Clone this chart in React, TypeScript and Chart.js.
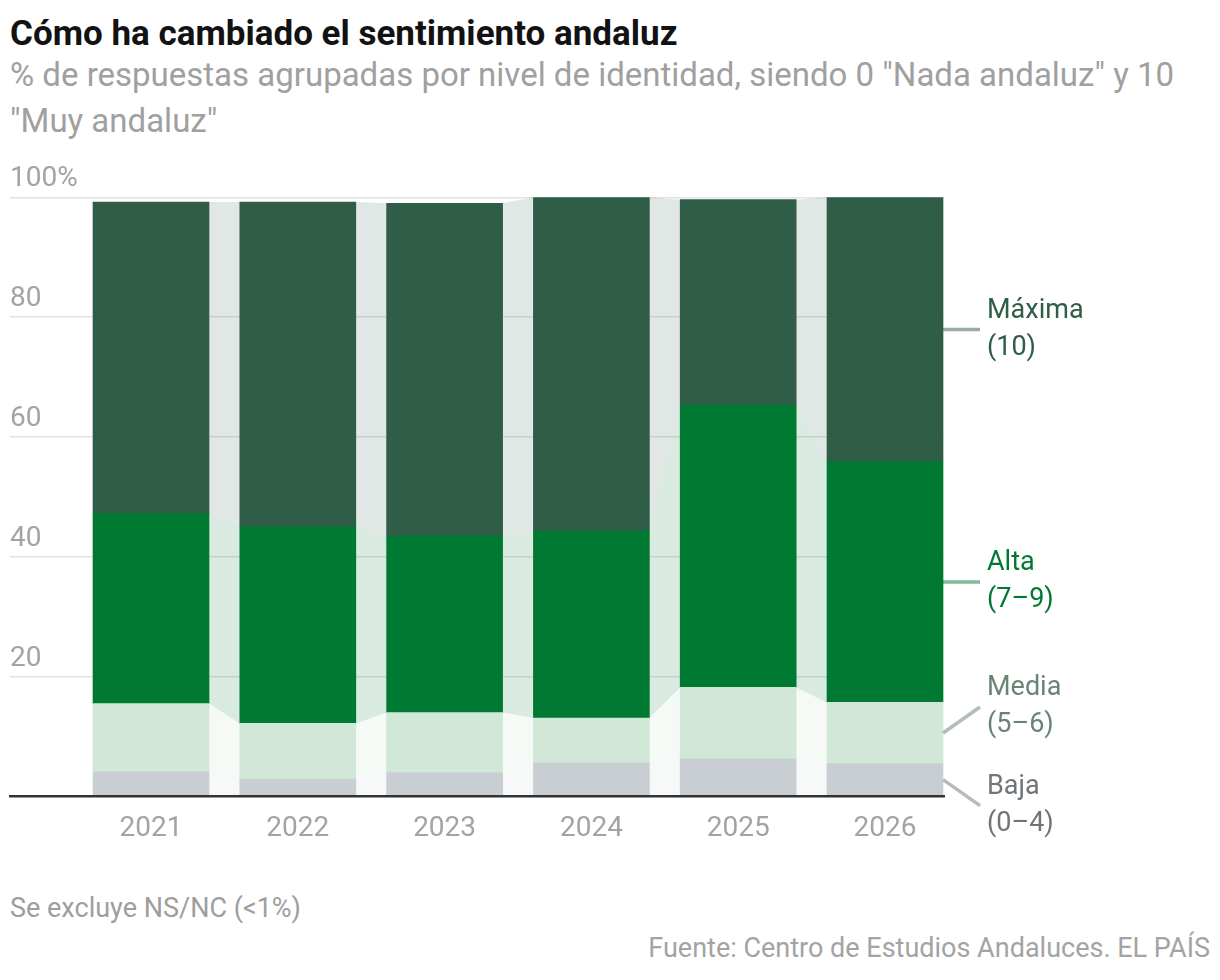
import React, { useEffect, useRef } from "react";
import { Chart, registerables } from "chart.js";

Chart.register(...registerables);

// ---- data ----
const years = ["2021", "2022", "2023", "2024", "2025", "2026"];
const baja = [4.1, 2.9, 4.0, 5.6, 6.3, 5.5];
const media = [11.4, 9.3, 10.0, 7.5, 11.9, 10.2];
const alta = [31.7, 32.8, 29.5, 31.2, 47.1, 40.2];
const maxima = [52.0, 54.2, 55.5, 55.7, 34.3, 44.1];
const yTicks = [0, 20, 40, 60, 80, 100];
const seriesNames = ["Baja", "Media", "Alta", "Máxima"];
const seriesRanges = ["(0–4)", "(5–6)", "(7–9)", "(10)"];

// ---- styles ----
const seriesValues = [baja, media, alta, maxima];
const fills = ["#c9ced2", "#d1e8d8", "#007a33", "#2f5d47"];
const connectorFills = [
  "rgba(201,206,210,0.15)",
  "rgba(209,232,216,0.2)",
  "rgba(0,122,51,0.15)",
  "rgba(47,93,71,0.15)",
];
const labelColors = ["#6f7479", "#6a8474", "#007a33", "#2f5d47"];
const leaderColors = ["#b8bbbd", "#b3beb6", "rgba(0,122,51,0.5)", "rgba(47,93,71,0.5)"];
const leaderOffsets = [26, -26, 0, 0];
const FONT = "Roboto, 'Noto Sans', sans-serif";
const GRAY = "#a3a3a3";

const connectorPlugin = {
  id: "connectors",
  beforeDatasetsDraw(chart: any) {
    const ctx = chart.ctx;
    ctx.save();
    chart.data.datasets.forEach((_: any, d: number) => {
      const meta = chart.getDatasetMeta(d);
      for (let i = 0; i < meta.data.length - 1; i++) {
        const a = meta.data[i];
        const b = meta.data[i + 1];
        const ax = a.x + a.width / 2;
        const bx = b.x - b.width / 2;
        ctx.beginPath();
        ctx.moveTo(ax, a.y);
        ctx.lineTo(bx, b.y);
        ctx.lineTo(bx, b.base);
        ctx.lineTo(ax, a.base);
        ctx.closePath();
        ctx.fillStyle = connectorFills[d];
        ctx.fill();
      }
    });
    ctx.restore();
  },
};

const labelPlugin = {
  id: "endLabels",
  afterDatasetsDraw(chart: any) {
    const ctx = chart.ctx;
    ctx.save();
    chart.data.datasets.forEach((_: any, d: number) => {
      const meta = chart.getDatasetMeta(d);
      const last = meta.data[meta.data.length - 1];
      const mid = (last.y + last.base) / 2;
      const x0 = last.x + last.width / 2;
      const x1 = x0 + 37;
      const y1 = mid + leaderOffsets[d];
      ctx.beginPath();
      ctx.moveTo(x0, mid);
      ctx.lineTo(x1, y1);
      ctx.strokeStyle = leaderColors[d];
      ctx.lineWidth = 3.5;
      ctx.stroke();
      ctx.fillStyle = labelColors[d];
      ctx.font = `27px ${FONT}`;
      ctx.textAlign = "left";
      ctx.textBaseline = "middle";
      ctx.fillText(seriesNames[d], x1 + 7, y1 - 18.5);
      ctx.fillText(seriesRanges[d], x1 + 7, y1 + 18.5);
    });
    ctx.restore();
  },
};

export default function App() {
  const ref = useRef<HTMLCanvasElement | null>(null);

  useEffect(() => {
    if (!ref.current) return;
    const chart = new Chart(ref.current, {
      type: "bar",
      data: {
        datasets: seriesNames.map((name, d) => ({
          label: name,
          data: seriesValues[d].map((v, i) => ({ x: i, y: v })),
          backgroundColor: fills[d],
          borderWidth: 0,
          barThickness: 116,
        })),
      },
      options: {
        animation: false,
        responsive: false,
        maintainAspectRatio: false,
        layout: { padding: { left: 10, right: 276, top: 57.3, bottom: 23.5 } },
        plugins: {
          legend: { display: false },
          tooltip: { enabled: false },
        },
        scales: {
          x: {
            type: "linear",
            stacked: true,
            offset: false,
            min: -0.9605,
            max: 5.4019,
            afterBuildTicks: (axis: any) => {
              axis.ticks = years.map((_, i) => ({ value: i }));
            },
            afterFit: (s: any) => {
              s.height = 60;
            },
            grid: { display: false, drawTicks: false, offset: false },
            border: { display: true, color: "#333333", width: 2.5, z: 1 },
            ticks: {
              autoSkip: false,
              maxRotation: 0,
              padding: 16,
              color: GRAY,
              font: { family: FONT, size: 28 },
              callback: (v: any) => years[v] ?? "",
            },
          },
          y: {
            stacked: true,
            min: 0,
            max: 100,
            afterBuildTicks: (axis: any) => {
              axis.ticks = yTicks.map((v) => ({ value: v }));
            },
            afterFit: (s: any) => {
              s.width = 0;
            },
            grid: {
              drawTicks: false,
              lineWidth: 1.5,
              color: (c: any) => (c.tick && c.tick.value === 0 ? "rgba(0,0,0,0)" : "#e3e3e3"),
            },
            border: { display: false },
            ticks: {
              mirror: true,
              padding: 0,
              labelOffset: -18,
              color: GRAY,
              font: { family: FONT, size: 28 },
              callback: (v: any) => (v === 100 ? "100%" : v === 0 ? "" : String(v)),
            },
          },
        },
      },
      plugins: [connectorPlugin, labelPlugin],
    } as any);
    return () => chart.destroy();
  }, []);

  return (
    <div style={{ position: "absolute", left: 0, top: 0, width: 1220, height: 980, background: "#fff", fontFamily: FONT }}>
      <div
        style={{
          position: "absolute",
          left: 10,
          top: 15.5,
          font: `700 35px ${FONT}`,
          lineHeight: "35px",
          color: "#121212",
          whiteSpace: "nowrap",
        }}
      >
        Cómo ha cambiado el sentimiento andaluz
      </div>
      <div
        style={{
          position: "absolute",
          left: 10,
          top: 51.5,
          width: 1200,
          font: `400 33px ${FONT}`,
          lineHeight: "46px",
          color: "#a0a0a0",
        }}
      >
        % de respuestas agrupadas por nivel de identidad, siendo 0 "Nada andaluz" y 10 "Muy andaluz"
      </div>
      <canvas
        ref={ref}
        width={1220}
        height={740}
        style={{ position: "absolute", left: 0, top: 140, width: 1220, height: 740 }}
      />
      <div
        style={{
          position: "absolute",
          left: 10,
          top: 893,
          font: `400 27px ${FONT}`,
          lineHeight: "30px",
          color: "#9e9e9e",
          whiteSpace: "nowrap",
        }}
      >
        Se excluye NS/NC (&lt;1%)
      </div>
      <div
        style={{
          position: "absolute",
          right: 10,
          top: 933,
          font: `400 27px ${FONT}`,
          lineHeight: "30px",
          color: "#a3a3a3",
          whiteSpace: "nowrap",
        }}
      >
        Fuente: Centro de Estudios Andaluces. EL PAÍS
      </div>
    </div>
  );
}
